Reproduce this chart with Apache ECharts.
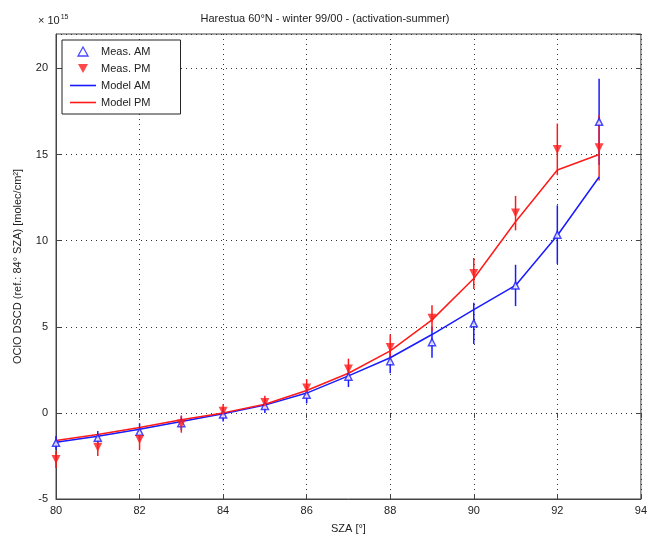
<!DOCTYPE html>
<html><head><meta charset="utf-8">
<script src="https://cdn.jsdelivr.net/npm/echarts@6/dist/echarts.min.js"></script>
<style>html,body{margin:0;padding:0;background:#fff}#c{width:650px;height:544px}</style>
</head><body><div id="c"></div>
<script>
const sza = [80,81,82,83,84,85,86,87,88,89,90,91,92,93];
const measAM = [-1.74,-1.45,-1.1,-0.6,-0.1,0.4,1.05,2.1,3.0,4.1,5.2,7.4,10.35,16.9];
const measAMErr = [0.4,0.4,0.5,0.4,0.4,0.4,0.5,0.6,0.7,0.9,1.2,1.2,1.7,2.5];
const measPM = [-2.7,-2.0,-1.55,-0.65,0.1,0.6,1.45,2.55,3.8,5.5,8.1,11.6,15.3,15.4];
const measPMErr = [0.5,0.5,0.6,0.5,0.4,0.4,0.5,0.6,0.75,0.75,0.9,1.0,1.5,1.9];
const modelAM = [-1.7,-1.35,-0.95,-0.5,-0.05,0.45,1.15,2.15,3.2,4.55,6.0,7.4,10.3,13.7];
const modelPM = [-1.6,-1.25,-0.85,-0.4,0.0,0.5,1.3,2.3,3.6,5.4,7.8,11.1,14.1,15.0];
const xTicks = [80,82,84,86,88,90,92,94];
const yTicks = [-5,0,5,10,15,20];

const FONT = 'Liberation Sans';
const pairs = (ys) => sza.map((x,i)=>[x, ys[i]]);
const errData = (ys, es) => sza.map((x,i)=>[x, ys[i]-es[i], ys[i]+es[i]]);
function errRender(color){
  return function(params, api){
    const lo = api.coord([api.value(0), api.value(1)]);
    const hi = api.coord([api.value(0), api.value(2)]);
    return {type:'line', shape:{x1:lo[0],y1:lo[1],x2:hi[0],y2:hi[1]}, style:{stroke:color, lineWidth:1.5}};
  };
}
const BLUE = '#1a1aff', RED = '#ff1a1a';
const chart = echarts.init(document.getElementById('c'), null, {renderer:'canvas'});
const axisText = {color:'#222', fontFamily:FONT, fontSize:11};
const lineIcon = 'path://M0,0 L26,0 L26,1.6 L0,1.6 Z';
chart.setOption({
  animation:false,
  backgroundColor:'#fff',
  title:{text:'Harestua 60°N - winter 99/00 - (activation-summer)', left:'center', top:8,
    textStyle:{fontFamily:FONT, fontSize:11, fontWeight:'normal', color:'#222'}},
  grid:{left:56, right:9, top:34, bottom:45, show:true, borderColor:'#444', borderWidth:1},
  graphic:[{type:'text', left:38, top:14, style:{
    text:'{a|× 10}{b|15}', rich:{a:{fontFamily:FONT,fontSize:11,fill:'#222'}, b:{fontFamily:FONT,fontSize:7,fill:'#222',verticalAlign:'top',padding:[0,0,6,1]}}}}],
  legend:{left:62, top:40, orient:'vertical', itemGap:6, itemWidth:26, itemHeight:9,
    backgroundColor:'#fff', borderColor:'#222', borderWidth:1, padding:[6,30,6,8],
    textStyle:{fontFamily:FONT, fontSize:11, color:'#222'},
    data:[
      {name:'Meas. AM', icon:'path://M5,0 L10,9 L0,9 Z', itemStyle:{color:'#fff', borderColor:BLUE, borderWidth:1.3}},
      {name:'Meas. PM', icon:'path://M0,0 L10,0 L5,9 Z'},
      {name:'Model AM', icon:lineIcon},
      {name:'Model PM', icon:lineIcon}
    ]},
  xAxis:[{type:'value', min:80, max:94, interval:2, name:'SZA [°]', nameLocation:'middle', nameGap:24,
    nameTextStyle:axisText,
    axisLine:{show:true, onZero:false, lineStyle:{color:'#444'}},
    axisTick:{inside:true, length:5, lineStyle:{color:'#444'}},
    axisLabel:{...axisText, margin:6},
    splitLine:{show:true, lineStyle:{type:[1,4], color:'#333', width:1}}},
    {type:'value', position:'top', min:80, max:94, interval:2, axisLine:{show:false},
    axisTick:{inside:true, length:5, lineStyle:{color:'#444'}}, axisLabel:{show:false}, splitLine:{show:false}}],
  yAxis:[{type:'value', min:-5, max:22, interval:5, name:'OClO DSCD (ref.: 84° SZA) [molec/cm²]',
    nameLocation:'middle', nameGap:33, nameTextStyle:axisText,
    axisLine:{show:true, onZero:false, lineStyle:{color:'#444'}},
    axisTick:{inside:true, length:5, lineStyle:{color:'#444'}},
    axisLabel:{...axisText, margin:8, showMaxLabel:false, formatter:(v)=> yTicks.includes(v)? String(v):''},
    splitLine:{show:true, lineStyle:{type:[1,4], color:'#333', width:1}}},
    {type:'value', position:'right', min:-5, max:22, interval:5, axisLine:{show:false},
    axisTick:{inside:true, length:5, lineStyle:{color:'#444'}}, axisLabel:{show:false}, splitLine:{show:false}}],
  series:[
    {name:'errAM', type:'custom', renderItem:errRender(BLUE), data:errData(measAM, measAMErr), z:2},
    {name:'errPM', type:'custom', renderItem:errRender(RED), data:errData(measPM, measPMErr), z:2},
    {name:'Model AM', type:'line', data:pairs(modelAM), showSymbol:false, symbol:'none',
      lineStyle:{color:BLUE, width:1.5}, itemStyle:{color:BLUE}, z:3},
    {name:'Model PM', type:'line', data:pairs(modelPM), showSymbol:false, symbol:'none',
      lineStyle:{color:RED, width:1.5}, itemStyle:{color:RED}, z:3},
    {name:'Meas. AM', type:'scatter', data:pairs(measAM), symbol:'triangle', symbolSize:7,
      itemStyle:{color:'#fff', borderColor:BLUE, borderWidth:1.5}, z:4},
    {name:'Meas. PM', type:'scatter', data:pairs(measPM), symbol:'triangle', symbolRotate:180, symbolSize:9,
      itemStyle:{color:RED}, z:4}
  ]
});
</script></body></html>
